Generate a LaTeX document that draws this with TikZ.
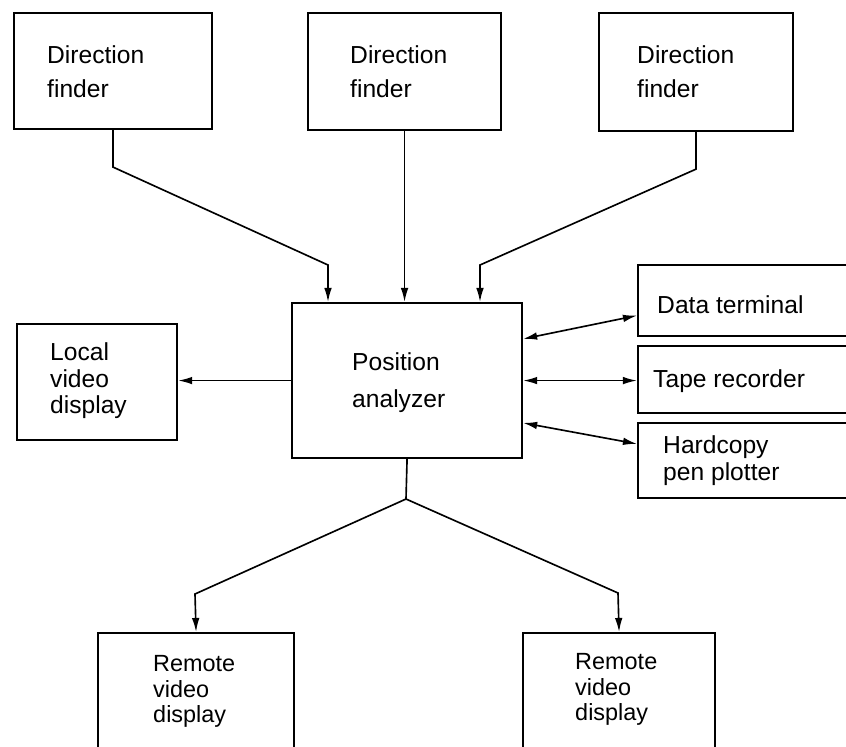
\documentclass[tikz,border=0pt]{standalone}
\usepackage{fontspec}
\setmainfont{Liberation Sans}
\usetikzlibrary{arrows.meta}

\begin{document}
\begin{tikzpicture}[
    x=0.03cm, y=-0.03cm,
    box/.style={rectangle, draw, line width=1.8pt, anchor=north west, inner sep=0pt},
    lbl/.style={anchor=north west, inner sep=0pt, align=left, font=\fontsize{21}{29}\selectfont},
    arr/.style={line width=1.4pt, -{Latex[length=12pt, width=6.5pt]}},
    both/.style={line width=1.4pt, {Latex[length=12pt, width=6.5pt]}-{Latex[length=12pt, width=6.5pt]}}
]
\useasboundingbox (0,0) rectangle (846,746);
\clip (0,0) rectangle (846,746);

% boxes
\node[box, minimum width=5.94cm, minimum height=3.48cm] (df1) at (13,12) {};
\node[box, minimum width=5.79cm, minimum height=3.51cm] (df2) at (307,12) {};
\node[box, minimum width=5.82cm, minimum height=3.54cm] (df3) at (598,12) {};
\node[box, minimum width=6.90cm, minimum height=4.65cm] (pa) at (291,302) {};
\node[box, minimum width=4.80cm, minimum height=3.48cm] (lvd) at (16,323) {};
\node[box, minimum width=7.89cm, minimum height=2.13cm] (dt) at (637,264) {};
\node[box, minimum width=7.89cm, minimum height=2.01cm] (tr) at (637,345) {};
\node[box, minimum width=7.89cm, minimum height=2.25cm] (hc) at (637,422) {};
\node[box, minimum width=5.88cm, minimum height=3.60cm] (rvd1) at (97,632) {};
\node[box, minimum width=5.76cm, minimum height=3.60cm] (rvd2) at (522,632) {};

% texts
\node[lbl] (df1t) at (47,45) {Direction\\finder};
\node[lbl] (df2t) at (350,45) {Direction\\finder};
\node[lbl] (df3t) at (637,45) {Direction\\finder};
\node[lbl, font=\fontsize{21}{32}\selectfont] (pat) at (352,352) {Position\\analyzer};
\node[lbl, font=\fontsize{21}{23}\selectfont] (lvdt) at (50,342) {Local\\video\\display};
\node[lbl] (dtt) at (657,295) {Data terminal};
\node[lbl] (trt) at (653,369) {Tape recorder};
\node[lbl, font=\fontsize{21}{23}\selectfont] (hct) at (663,435) {Hardcopy\\pen plotter};
\node[lbl, font=\fontsize{20}{22}\selectfont] (rvd1t) at (153,655) {Remote\\video\\display};
\node[lbl, font=\fontsize{20}{22}\selectfont] (rvd2t) at (575,653) {Remote\\video\\display};

% bends
\coordinate (k1) at (328,265);
\coordinate (k3) at (480,265);
\coordinate (fork) at (406,499);
\coordinate (k4) at (195,594);
\coordinate (k5) at (618,593);

% connectors
\draw[arr] (df1.south) -- ++(0,37) -- (k1) -- (k1 |- pa.north);
\draw[arr] (df2.south) -- (df2.south |- pa.north);
\draw[arr] (df3.south) -- ++(0,37) -- (k3) -- (k3 |- pa.north);
\draw[arr] (pa.west) -- (pa.west -| lvd.east);
\draw[both] ([yshift=1.25cm]pa.east) -- ([yshift=-0.45cm]dt.west);
\draw[both] (pa.east) -- (pa.east -| tr.west);
\draw[both] ([yshift=-1.27cm]pa.east) -- ([yshift=0.5cm]hc.west);
\draw[line width=1.4pt] (pa.south) -- (fork);
\draw[arr] (fork) -- (k4) -- (rvd1.north);
\draw[arr] (fork) -- (k5) -- (rvd2.north);

\end{tikzpicture}
\end{document}
